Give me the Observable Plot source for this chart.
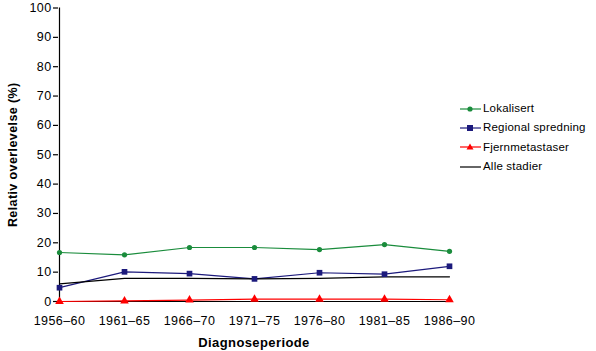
<!DOCTYPE html>
<html><head><meta charset="utf-8">
<script src="https://cdn.jsdelivr.net/npm/d3@7"></script>
<script src="https://cdn.jsdelivr.net/npm/@observablehq/plot@0.6"></script>
<style>
body{margin:0;background:#fff;font-family:"Liberation Sans",Arial,sans-serif;}
#wrap{position:relative;width:596px;height:351px;}
#legend{position:absolute;left:460px;top:99px;font-size:11.5px;line-height:19.3px;color:#000;letter-spacing:0.2px;}
#legend div{display:flex;align-items:center;height:19.3px;}
#legend svg{margin-right:2px;}
</style></head>
<body><div id="wrap"><div id="legend"></div></div>
<script>
const periods = ["1956–60","1961–65","1966–70","1971–75","1976–80","1981–85","1986–90"];
const lokalisert = [16.7, 15.9, 18.4, 18.4, 17.7, 19.4, 17.1];
const regional = [4.7, 10.1, 9.5, 7.7, 9.8, 9.3, 12.0];
const fjernmetastaser = [0, 0.2, 0.5, 0.8, 0.8, 0.8, 0.6];
const alle = [6.0, 7.9, 7.9, 7.7, 7.9, 8.4, 8.4];
const yTicks = [0,10,20,30,40,50,60,70,80,90,100];

const seriesNames = ["Lokalisert","Regional spredning","Fjernmetastaser","Alle stadier"];
const colors = ["#1a8c3c","#1c1a7c","#ff0000","#000000"];
const symbols = ["circle","square","triangle",null];
const vals = [lokalisert, regional, fjernmetastaser, alle];

const rows = [];
vals.forEach((arr,i)=>arr.forEach((v,j)=>rows.push({series:seriesNames[i], period:periods[j], value:v})));

const font = "Liberation Sans, Arial, sans-serif";
const chart = Plot.plot({
  width: 596, height: 351,
  marginLeft: 58, marginRight: 147, marginTop: 7.5, marginBottom: 50,
  style: {fontFamily: font, fontSize: "12px", color: "#000", background: "#fff", letterSpacing: "0.4px"},
  x: {type: "point", domain: periods, padding: 0, label: null},
  y: {domain: [0,100], label: null},
  marks: [
    Plot.ruleX([0], {x: () => periods[0], y1: 0, y2: 100, stroke: "#000", strokeWidth: 1.2}),
    Plot.axisY({ticks: yTicks, tickSize: 5, tickPadding: 2, fontSize: 12.5, label: null, strokeWidth: 1.2}),
    Plot.axisX({tickSize: 0, tickPadding: 15, fontSize: 12.5, label: null}),
    Plot.text(["Relativ overlevelse (%)"], {frameAnchor: "left", textAnchor: "middle", dx: -46, rotate: -90, fontWeight: "bold", fontSize: 12.5}),
    Plot.text(["Diagnoseperiode"], {frameAnchor: "bottom", dy: 45, fontWeight: "bold", fontSize: 13}),
    Plot.ruleY([0], {stroke: "#000", strokeWidth: 1}),
    ...seriesNames.map((s,i)=>Plot.line(rows.filter(d=>d.series===s), {x:"period", y:"value", stroke: colors[i], strokeWidth: 1.2})),
    Plot.dot(rows.filter(d=>d.series===seriesNames[0]), {x:"period", y:"value", fill: colors[0], r: 2.6, symbol: "circle"}),
    Plot.dot(rows.filter(d=>d.series===seriesNames[1]), {x:"period", y:"value", fill: colors[1], r: 3.2, symbol: "square"}),
    Plot.dot(rows.filter(d=>d.series===seriesNames[2]), {x:"period", y:"value", fill: colors[2], r: 3.2, symbol: "triangle"})
  ]
});
document.getElementById("wrap").prepend(chart);

const leg = document.getElementById("legend");
seriesNames.forEach((s,i)=>{
  const d = document.createElement("div");
  let mark = "";
  if (symbols[i]==="circle") mark = `<circle cx="10" cy="6" r="2.6" fill="${colors[i]}"/>`;
  if (symbols[i]==="square") mark = `<rect x="7" y="3" width="6" height="6" fill="${colors[i]}"/>`;
  if (symbols[i]==="triangle") mark = `<path d="M10,2.5L13.5,8.5L6.5,8.5Z" fill="${colors[i]}"/>`;
  d.innerHTML = `<svg width="21" height="12"><line x1="0" x2="21" y1="6" y2="6" stroke="${colors[i]}" stroke-width="1.2"/>${mark}</svg><span>${s}</span>`;
  leg.appendChild(d);
});
</script></body></html>
